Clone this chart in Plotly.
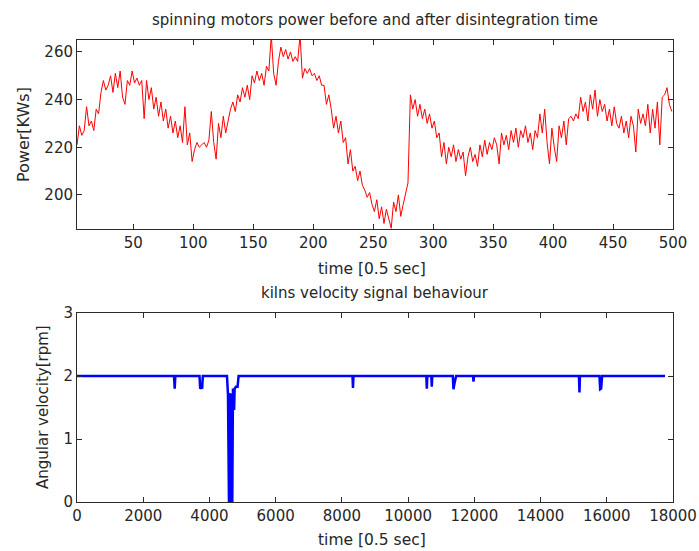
import plotly.graph_objects as go

# ---- Top panel: spinning motors power (KWs) vs time [0.5 sec] ----
power_t = list(range(3, 501, 2))
power_kw = [
    221, 229, 225, 227, 237, 229, 231, 227, 236, 234,
    243, 248, 244, 246, 250, 243, 251, 245, 252, 241,
    238, 248, 246, 252, 247, 249, 246, 248, 232, 248,
    240, 245, 236, 241, 233, 239, 231, 236, 228, 233,
    226, 231, 224, 229, 222, 237, 221, 226, 214, 219,
    222, 220, 221, 222, 220, 223, 235, 222, 215, 230,
    224, 233, 226, 231, 236, 239, 235, 242, 239, 245,
    241, 246, 240, 250, 247, 252, 248, 251, 246, 254,
    252, 267, 251, 246, 256, 262, 258, 261, 257, 260,
    256, 258, 256, 267, 249, 253, 251, 253, 250, 251,
    248, 250, 246, 246, 238, 242, 236, 228, 233, 226,
    231, 222, 224, 213, 219, 210, 212, 206, 210, 204,
    202, 199, 201, 196, 193, 198, 190, 195, 188, 194,
    190, 186, 197, 193, 200, 191, 196, 201, 205, 242,
    236, 240, 233, 238, 232, 236, 230, 234, 228, 231,
    224, 226, 216, 222, 213, 220, 216, 221, 214, 219,
    215, 218, 208, 216, 220, 214, 217, 212, 221, 216,
    223, 217, 222, 219, 224, 221, 213, 226, 221, 225,
    219, 227, 222, 228, 220, 227, 224, 229, 222, 226,
    219, 227, 224, 234, 226, 236, 222, 213, 228, 220,
    214, 229, 224, 231, 221, 232, 233, 231, 234, 232,
    241, 235, 239, 231, 242, 236, 244, 233, 240, 235,
    238, 231, 236, 229, 237, 230, 228, 233, 226, 231,
    224, 233, 229, 218, 236, 230, 234, 229, 238, 226,
    236, 228, 239, 221, 241, 242, 245, 238, 235,
]

# ---- Bottom panel: kiln angular velocity (rpm) vs time [0.5 sec] ----
vel_t = [
    0, 2930, 2950, 2970, 3700, 3720, 3750, 3780, 3800,
    4530, 4560, 4575, 4590, 4610, 4640, 4665, 4690, 4710, 4730, 4745, 4760,
    4800, 4850, 4880,
    8320, 8335, 8350,
    10550, 10565, 10580, 10700, 10715, 10730,
    11350, 11370, 11400, 11450, 11960, 11975, 11990,
    15160, 15175, 15190, 15780, 15800, 15830, 15860,
    17760,
]
vel_rpm = [
    2.0, 2.0, 1.8, 2.0, 2.0, 1.8, 1.82, 1.8, 2.0,
    2.0, 1.7, 0.0, 0.0, 1.7, 1.72, 0.0, 0.0, 1.78, 1.78, 1.46, 1.8,
    1.83, 1.83, 2.0,
    2.0, 1.81, 2.0,
    2.0, 1.8, 2.0, 2.0, 1.83, 2.0,
    2.0, 1.79, 1.88, 2.0, 2.0, 1.91, 2.0,
    2.0, 1.74, 2.0, 2.0, 1.79, 1.8, 2.0,
    2.0,
]

top_xticks = [50, 100, 150, 200, 250, 300, 350, 400, 450, 500]
top_yticks = [200, 220, 240, 260]
bot_xticks = [0, 2000, 4000, 6000, 8000, 10000, 12000, 14000, 16000, 18000]
bot_yticks = [0, 1, 2, 3]

W, H = 699, 551
FONT = "DejaVu Sans, Liberation Sans, Arial, sans-serif"
TXT = "#262626"
AX = "#2b2b2b"

def px_x(p):
    return p / W

def px_y(p):
    return 1 - p / H

fig = go.Figure()
fig.add_trace(go.Scatter(x=power_t, y=power_kw, mode="lines",
                         line=dict(color="#ff0000", width=1),
                         xaxis="x", yaxis="y", showlegend=False))
fig.add_trace(go.Scatter(x=vel_t, y=vel_rpm, mode="lines",
                         line=dict(color="#0000ff", width=2.5),
                         xaxis="x2", yaxis="y2", showlegend=False))

axis_common = dict(showgrid=False, zeroline=False, showline=True, linecolor=AX,
                   linewidth=1, mirror="ticks", ticks="inside", ticklen=5,
                   tickcolor=AX, automargin=False, ticklabeloverflow="allow",
                   tickfont=dict(family=FONT, size=15, color=TXT))

xd = [px_x(77), px_x(673)]
fig.update_layout(
    width=W, height=H,
    margin=dict(l=0, r=0, t=0, b=0, autoexpand=False),
    paper_bgcolor="white", plot_bgcolor="white",
    xaxis=dict(domain=xd, range=[3, 500], tickvals=top_xticks,
               ticktext=[str(v) for v in top_xticks], anchor="y", **axis_common),
    yaxis=dict(domain=[px_y(229), px_y(40)], range=[185.7, 265.0],
               tickvals=top_yticks, ticktext=[str(v) for v in top_yticks],
               anchor="x", **axis_common),
    xaxis2=dict(domain=xd, range=[0, 18000], tickvals=bot_xticks,
                ticktext=[str(v) for v in bot_xticks], anchor="y2", **axis_common),
    yaxis2=dict(domain=[px_y(502), px_y(313)], range=[0, 3],
                tickvals=bot_yticks, ticktext=[str(v) for v in bot_yticks],
                anchor="x2", **axis_common),
)

def ann(text, x, y, size=16, angle=0):
    fig.add_annotation(text=text, x=px_x(x), y=px_y(y), xref="paper", yref="paper",
                       showarrow=False, textangle=angle, xanchor="center",
                       yanchor="middle", font=dict(family=FONT, size=size, color=TXT))

ann("spinning motors power before and after disintegration time", 375, 20, 15)
ann("time [0.5 sec]", 372, 269, 15.5)
ann("Power[KWs]", 23, 135, 16, -90)
ann("kilns velocity signal behaviour", 375, 293, 15)
ann("time [0.5 sec]", 372, 540, 15.5)
ann("Angular velocity[rpm]", 43, 407, 15, -90)

fig.write_html(
    "out.html",
    config={"displayModeBar": False},
    post_script="document.body.style.margin='0';document.body.style.overflow='hidden';",
)
